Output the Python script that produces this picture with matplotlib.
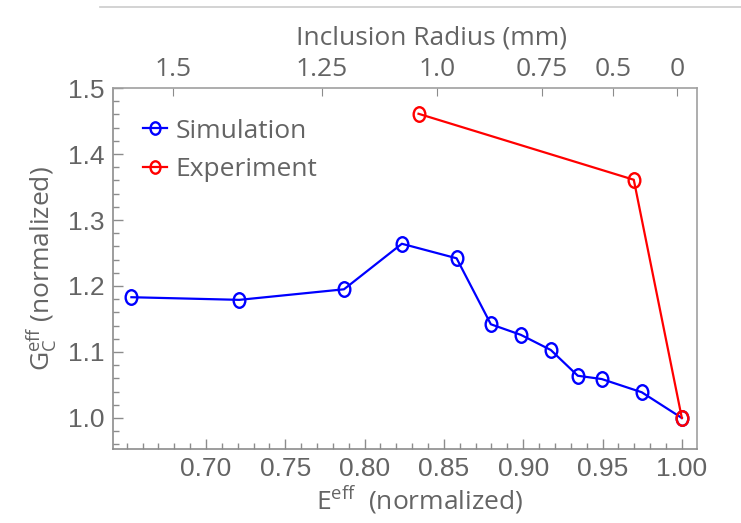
import matplotlib
matplotlib.use("Agg")
import matplotlib.pyplot as plt
from matplotlib.lines import Line2D
from matplotlib.path import Path
from matplotlib.transforms import Affine2D

# simulation: effective modulus vs effective toughness (both normalized)
sim_E = [0.653, 0.721, 0.787, 0.8235, 0.858, 0.8796, 0.8985, 0.9174, 0.9344, 0.9495, 0.9747, 1.0]
sim_G = [1.183, 1.179, 1.195, 1.264, 1.242, 1.142, 1.126, 1.103, 1.064, 1.059, 1.039, 1.0]

# experiment
exp_E = [0.834, 0.9697, 1.0]
exp_G = [1.461, 1.361, 1.0]

# top axis: inclusion radius labels at their E positions
radius_pos = [0.679, 0.773, 0.8455, 0.9117, 0.9565, 0.997]
radius_lbl = ['1.5', '1.25', '1.0', '0.75', '0.5', '0']

x_major = [0.70, 0.75, 0.80, 0.85, 0.90, 0.95, 1.00]
x_major_lbl = ['0.70', '0.75', '0.80', '0.85', '0.90', '0.95', '1.00']
y_major = [1.0, 1.1, 1.2, 1.3, 1.4, 1.5]
y_major_lbl = ['1.0', '1.1', '1.2', '1.3', '1.4', '1.5']

plt.rcParams['mathtext.fontset'] = 'custom'
plt.rcParams['mathtext.rm'] = 'Open Sans'

GRAY_TXT = '#646464'
GRAY_AX = '#8c8c8c'

# mathematica-style "o" marker: slightly narrow ellipse
oval = Path.unit_circle().transformed(Affine2D().scale(0.8, 1.0))

fig = plt.figure(figsize=(7.41, 5.23), dpi=100)
ax = fig.add_axes([0.1525, 0.1415, 0.788, 0.6902])

ax.plot(sim_E, sim_G, color='#0000ff', lw=1.6, marker=oval, ms=10.5,
        mfc='none', mec='#0000ff', mew=1.7, label='Simulation')
ax.plot(exp_E, exp_G, color='#ff0000', lw=1.6, marker=oval, ms=10.5,
        mfc='none', mec='#ff0000', mew=1.7, label='Experiment')

ax.set_xlim(0.6414, 1.0095)
ax.set_ylim(0.953, 1.5)

ax.set_xticks(x_major, labels=x_major_lbl)
ax.set_xticks([0.65 + 0.01 * i for i in range(36)], minor=True)
ax.set_yticks(y_major, labels=y_major_lbl)
ax.set_yticks([0.96 + 0.02 * i for i in range(28)], minor=True)

ax.tick_params(which='both', direction='in', color=GRAY_AX, width=1,
               top=False, right=False)
ax.tick_params(which='major', length=7, labelsize=19, labelcolor=GRAY_TXT,
               pad=6)
ax.tick_params(which='minor', length=4)
for lab in ax.get_xticklabels() + ax.get_yticklabels():
    lab.set_family('Liberation Sans')

for side in ['left', 'bottom', 'top', 'right']:
    ax.spines[side].set_color(GRAY_AX)
    ax.spines[side].set_linewidth(1.2)
ax.spines['top'].set_color('#a0a0a0')
ax.spines['right'].set_color('#a0a0a0')

top = ax.secondary_xaxis('top')
top.set_xticks(radius_pos, labels=radius_lbl)
top.tick_params(direction='in', length=6, color=GRAY_AX, labelsize=19,
                labelcolor=GRAY_TXT, pad=4)
for lab in top.get_xticklabels():
    lab.set_family('Open Sans')
top.spines['top'].set_visible(False)
top.set_xlabel('Inclusion Radius (mm)', fontsize=19, color=GRAY_TXT,
               family='Open Sans', labelpad=9)
top.xaxis.label.set_x(0.545)

ax.set_xlabel(r'$\mathrm{E^{eff}}$  (normalized)', fontsize=19,
              color=GRAY_TXT, family='Open Sans', labelpad=2)
ax.xaxis.label.set_x(0.525)
ax.set_ylabel(r'$\mathrm{G_C^{eff}}$ (normalized)', fontsize=19,
              color=GRAY_TXT, family='Open Sans', labelpad=6)

leg = ax.legend(loc='upper left', bbox_to_anchor=(0.051, 0.915), frameon=False,
                prop={'family': 'Open Sans', 'size': 19}, handlelength=0.9,
                handletextpad=0.35, labelspacing=0.5, markerscale=0.85,
                borderpad=0, borderaxespad=0)
for t in leg.get_texts():
    t.set_color(GRAY_TXT)

# thin gray rule along the top of the image
fig.add_artist(Line2D([0.135, 1.0], [0.987, 0.987], color='#cccccc', lw=1.2))

fig.savefig('out.png', dpi=100)
